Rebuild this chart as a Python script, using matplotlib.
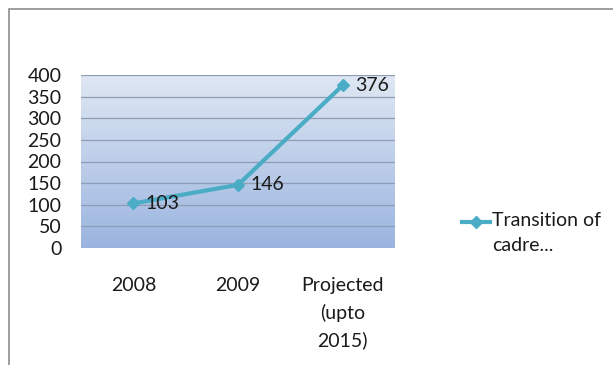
import numpy as np
import matplotlib.pyplot as plt
from matplotlib.lines import Line2D
from matplotlib.patches import Rectangle
from matplotlib.colors import LinearSegmentedColormap

plt.rcParams['font.family'] = ['Lato', 'DejaVu Sans']

categories = ['2008', '2009', 'Projected\n(upto\n2015)']
values = [103, 146, 376]
series_name = 'Transition of\ncadre...'
y_ticks = [0, 50, 100, 150, 200, 250, 300, 350, 400]

line_color = '#4bacc6'
text_color = '#1a1a1a'
fs = 14

fig = plt.figure(figsize=(6.13, 3.65), dpi=100)
fig.patch.set_facecolor('white')

# outer chart frame (goes off the right and bottom)
fig.add_artist(Rectangle((9 / 613, -0.1), 1.2, 1 - 9 / 365 + 0.1,
                         transform=fig.transFigure, fill=False,
                         edgecolor='#8c8c8c', linewidth=1.2))

ax = fig.add_axes([81 / 613, 1 - 248 / 365, 314 / 613, 173 / 365])
x = np.arange(len(categories))

# gradient background, light at top
grad = np.linspace(0, 1, 256).reshape(-1, 1)
cmap = LinearSegmentedColormap.from_list('bg', ['#dfe7f3', '#9bb5e0'])
ax.imshow(grad, aspect='auto', cmap=cmap, extent=[0, 1, 0, 1],
          origin='upper', transform=ax.transAxes, zorder=0)

ax.set_xlim(-0.5, len(categories) - 0.5)
ax.set_ylim(0, 400)
ax.set_yticks(y_ticks)
ax.yaxis.grid(True, color='#8e9cb4', linewidth=0.9)
ax.set_axisbelow(True)
for s in ax.spines.values():
    s.set_visible(False)
ax.tick_params(length=0, labelsize=fs, colors=text_color)
ax.tick_params(axis='y', pad=14)
ax.tick_params(axis='x', pad=21)
ax.set_xticks(x)
ax.set_xticklabels(categories, linespacing=1.65)

ax.plot(x, values, color=line_color, linewidth=3, marker='D',
        markersize=6.5, zorder=3)
for xi, v in zip(x, values):
    ax.annotate(str(v), (xi, v), xytext=(9, 0), textcoords='offset points',
                va='center', ha='left', fontsize=fs, color=text_color)

# legend drawn by hand so the key sits on the first text line
ly = 1 - 222 / 365
fig.add_artist(Line2D([462 / 613, 490 / 613], [ly, ly], color=line_color,
                      linewidth=3, transform=fig.transFigure))
fig.add_artist(Line2D([476 / 613], [ly], color=line_color, marker='D',
                      markersize=6.5, transform=fig.transFigure))
fig.text(492 / 613, ly + 10 / 365, series_name, ha='left', va='top',
         fontsize=fs, color=text_color, linespacing=1.6,
         transform=fig.transFigure)

fig.savefig('out.png', dpi=100)
